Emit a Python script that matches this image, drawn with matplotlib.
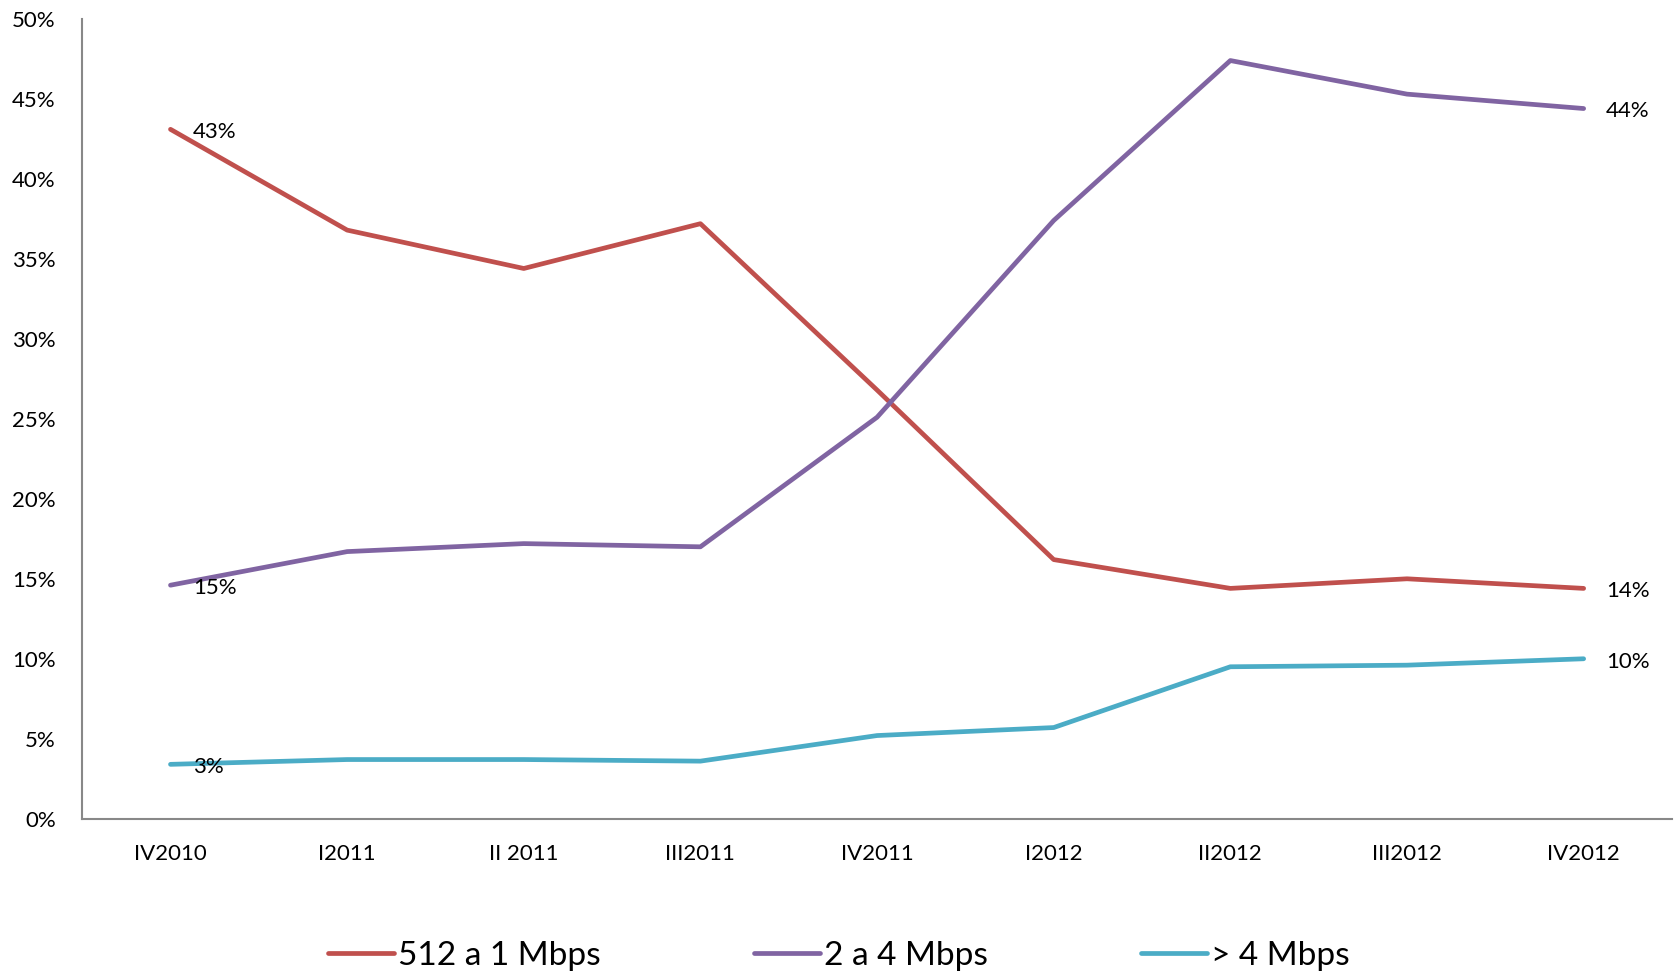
import matplotlib.pyplot as plt
import numpy as np

plt.rcParams["font.family"] = ["Lato", "DejaVu Sans"]

# quarters and share of connections per speed band (%)
quarters = ["IV2010", "I2011", "II 2011", "III2011", "IV2011", "I2012", "II2012", "III2012", "IV2012"]
band_512_1 = [43.1, 36.8, 34.4, 37.2, 26.8, 16.2, 14.4, 15.0, 14.4]
band_2_4 = [14.6, 16.7, 17.2, 17.0, 25.1, 37.4, 47.4, 45.3, 44.4]
band_gt4 = [3.4, 3.7, 3.7, 3.6, 5.2, 5.7, 9.5, 9.6, 10.0]

series_names = ["512 a 1 Mbps", "2 a 4 Mbps", "> 4 Mbps"]
colors = ["#C0504D", "#8064A2", "#4BACC6"]

fig = plt.figure(figsize=(16.77, 9.77), dpi=100)
ax = fig.add_axes([0.049, 0.162, 0.948, 0.8186])

x = np.arange(len(quarters))
for vals, name, c in zip([band_512_1, band_2_4, band_gt4], series_names, colors):
    ax.plot(x, vals, color=c, lw=3.4, label=name, solid_capstyle="round")
    # value labels at first and last quarter
    for i in (0, len(vals) - 1):
        ax.annotate(f"{round(vals[i]):.0f}%", (x[i], vals[i]), xytext=(16, -2),
                    textcoords="offset points", ha="left", va="center", fontsize=16)

ax.set_xlim(-0.5, len(quarters) - 0.5)
ax.set_ylim(0, 50)
ax.set_yticks(np.arange(0, 51, 5))
ax.set_yticklabels([f"{v}%" for v in range(0, 51, 5)])
ax.set_xticks(x)
ax.set_xticklabels(quarters)
ax.tick_params(length=0, labelsize=16)
ax.tick_params(axis="y", pad=19)
ax.tick_params(axis="x", pad=18)
for s in ["top", "right"]:
    ax.spines[s].set_visible(False)
for s in ["left", "bottom"]:
    ax.spines[s].set_color("#888888")
    ax.spines[s].set_linewidth(1.5)

fig.legend(loc="center", bbox_to_anchor=(0.5, 0.022), ncol=3, frameon=False,
           fontsize=24, handlelength=2.0, handletextpad=0.1, columnspacing=4.6)

fig.savefig("out.png", dpi=100)
